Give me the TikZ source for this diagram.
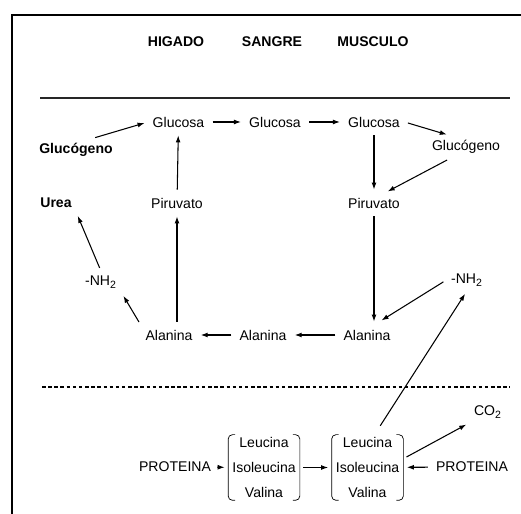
\documentclass[tikz,border=0pt]{standalone}
\usepackage{fontspec}
\setmainfont{Liberation Sans}
\usetikzlibrary{arrows.meta}
\newcommand{\bracketpair}[1]{%
  \draw[rounded corners=2.5pt] ([xshift=4pt]#1.north west) -- (#1.north west) -- (#1.south west) -- ([xshift=4pt]#1.south west);
  \draw[rounded corners=2.5pt] ([xshift=-4pt]#1.north east) -- (#1.north east) -- (#1.south east) -- ([xshift=-4pt]#1.south east);}

\begin{document}
\begin{tikzpicture}[
    font=\fontsize{8}{10}\selectfont,
    >={Latex[length=4pt,width=2.8pt]},
    every node/.style={inner sep=2.5pt},
    flow/.style={->,line width=0.6pt,shorten <=2pt,shorten >=2pt},
    organ/.style={font=\fontsize{8}{10}\selectfont\bfseries},
    aminobox/.style={minimum width=1.42cm,minimum height=1.3cm,inner sep=0pt,align=center,
      font=\fontsize{8}{14.2}\selectfont}]
    \useasboundingbox (0,0) rectangle (10.42,10.28);
    \draw[line width=1.1pt] (0.24,0) -- (0.24,9.98) -- (10.42,9.98);
    \draw[line width=0.8pt,black!85] (0.8,8.32) -- (10.2,8.32);
    \draw[line width=0.6pt,dash pattern=on 2pt off 1.5pt] (0.84,2.54) -- (10.2,2.54);

    \node[organ] (higado) at (3.52,9.44) {HIGADO};
    \node[organ] (sangre) at (5.44,9.44) {SANGRE};
    \node[organ] (musculo) at (7.46,9.44) {MUSCULO};

    \node (gluc1) at (3.57,7.84) {Glucosa};
    \node (gluc2) at (5.50,7.84) {Glucosa};
    \node (gluc3) at (7.48,7.84) {Glucosa};
    \node[organ] (glucogL) at (1.52,7.28) {Glucógeno};
    \node (glucogR) at (9.32,7.34) {Glucógeno};
    \node[organ] (urea) at (1.12,6.22) {Urea};
    \node (piruL) at (3.54,6.22) {Piruvato};
    \node (piruR) at (7.48,6.22) {Piruvato};
    \node (nhL) at (2.02,4.64) {-NH\textsubscript{2}};
    \node (nhR) at (9.34,4.68) {-NH\textsubscript{2}};
    \node (alaL) at (3.38,3.58) {Alanina};
    \node (alaM) at (5.26,3.58) {Alanina};
    \node (alaR) at (7.34,3.58) {Alanina};

    \node[aminobox] (box1) at (5.28,0.93) {Leucina\\Isoleucina\\Valina};
    \node[aminobox] (box2) at (7.35,0.93) {Leucina\\Isoleucina\\Valina};
    \bracketpair{box1}
    \bracketpair{box2}
    \node (protL) at (3.50,0.94) {PROTEINA};
    \node (protR) at (9.44,0.94) {PROTEINA};
    \node (co2) at (9.76,2.04) {CO\textsubscript{2}};

    \draw[flow] ([xshift=9pt]glucogL.north) -- (gluc1.west);
    \draw[flow] (gluc1) -- (gluc2);
    \draw[flow] (gluc2) -- (gluc3);
    \draw[flow] (gluc3.east) -- ([xshift=-9pt]glucogR.north);
    \draw[flow] (gluc3) -- (piruR);
    \draw[flow] ([xshift=-9pt]glucogR.south) -- ([xshift=6pt]piruR.north);
    \draw[flow] (piruL) -- (gluc1);
    \draw[flow] (piruL |- alaL.north) -- (piruL.south);
    \draw[flow] (piruR.south) -- (piruR |- alaR.north);
    \draw[flow,shorten >=5pt] (nhR.west) -- ([xshift=4pt]alaR.north);
    \draw[flow] (alaR) -- (alaM);
    \draw[flow] (alaM) -- (alaL);
    \draw[flow] (alaL.north west) -- (nhL.south east);
    \draw[flow] (nhL.north) -- (urea.south east);

    \draw[flow,shorten <=1pt] (protL) -- (box1);
    \draw[flow] (box1) -- (box2);
    \draw[flow] (protR) -- (box2);
    \draw[flow,shorten <=6pt] ([xshift=4pt]box2.north) -- (nhR.south);
    \draw[flow] ([yshift=5pt]box2.east) -- (co2.south west);
\end{tikzpicture}
\end{document}
